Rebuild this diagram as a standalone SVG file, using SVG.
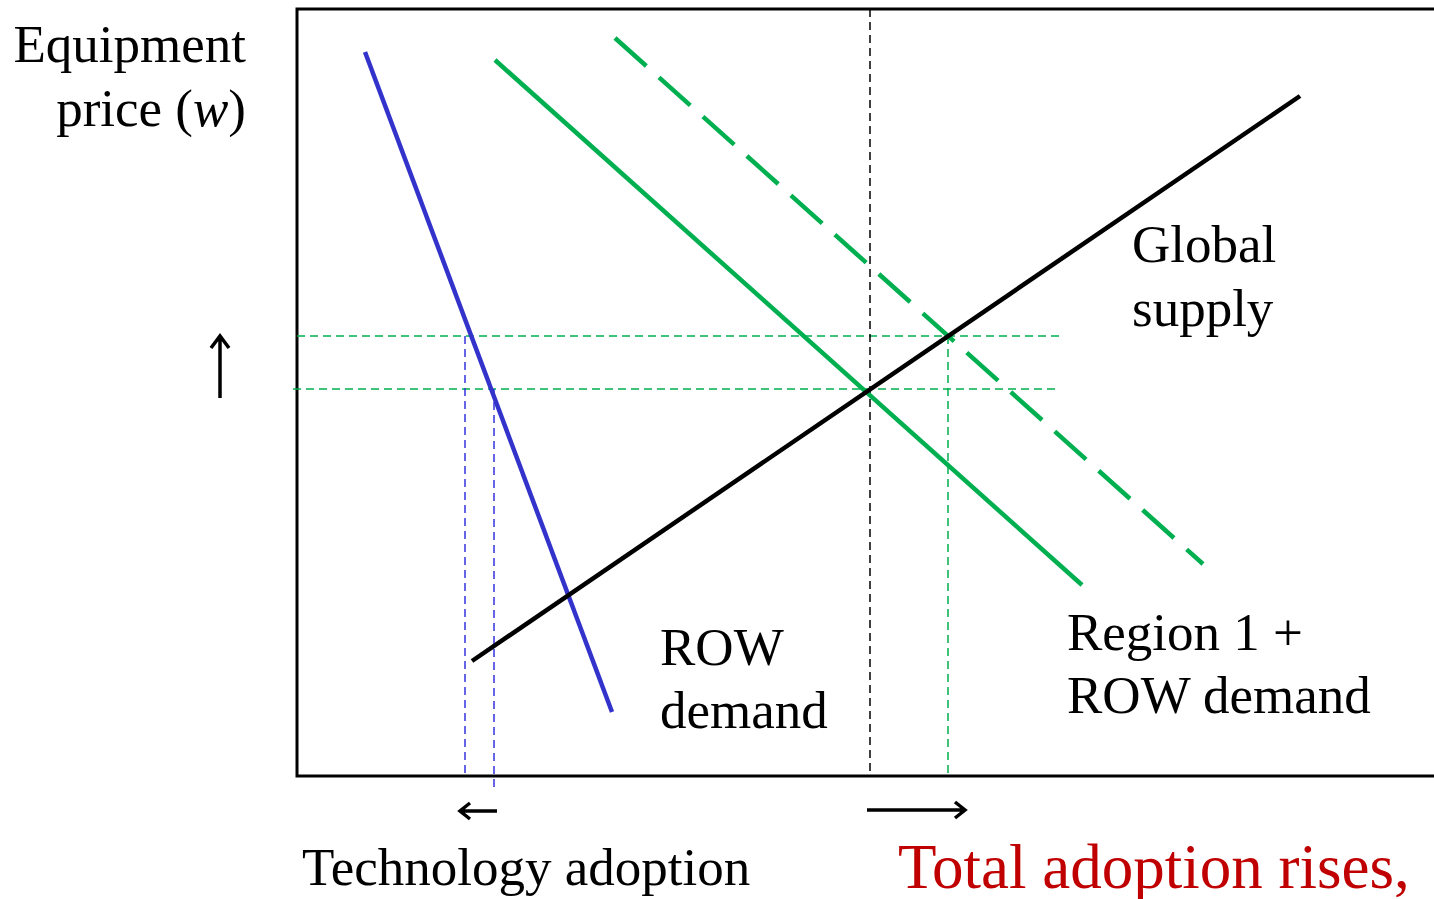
<svg xmlns="http://www.w3.org/2000/svg" width="1434" height="899" viewBox="0 0 1434 899">
<style>
.t{font-family:"Liberation Serif","Times New Roman",serif;font-size:53px;fill:#000}
.red{fill:#c00000;font-size:63px}
.thin{stroke-width:1.5;stroke-dasharray:8 5;fill:none}
.arr{fill:none;stroke:#000;stroke-width:3.5}
</style>
<rect width="1434" height="899" fill="#fff"/>
<g id="axes">
<path d="M1434,9 H297 V776 H1434" fill="none" stroke="#000" stroke-width="3"/>
</g>
<g id="guides">
<line x1="297" y1="336" x2="1063" y2="336" class="thin" stroke="#00b050"/>
<line x1="293" y1="389" x2="1058" y2="389" class="thin" stroke="#00b050"/>
<line x1="465" y1="336" x2="465" y2="776" class="thin" stroke="#3333dd"/>
<line x1="494" y1="389" x2="494" y2="788" class="thin" stroke="#3333dd"/>
<line x1="870" y1="9" x2="870" y2="772" class="thin" stroke="#000"/>
<line x1="948" y1="336" x2="948" y2="776" class="thin" stroke="#00b050"/>
</g>
<g id="connectors">
<line id="row-demand-curve" x1="365" y1="52" x2="612" y2="712" stroke="#3333cc" stroke-width="4.5"/>
<line id="region-demand-curve" x1="495" y1="60" x2="1082" y2="585" stroke="#00b050" stroke-width="4.5"/>
<line id="shifted-demand-curve" x1="615" y1="38" x2="1203" y2="564" stroke="#00b050" stroke-width="4.5" stroke-dasharray="42 17"/>
<line id="supply-curve" x1="472" y1="661" x2="1300" y2="96" stroke="#000" stroke-width="4.5"/>
<path class="arr" d="M220,398 V337 M211,348 L220,336 L229,348"/>
<path class="arr" d="M497,811 H460 M470,803 L460,811 L470,819"/>
<path class="arr" d="M867,810 H965 M955,802 L965,810 L955,818"/>
</g>
<g id="labels">
<text class="t" x="246" y="62" text-anchor="end">Equipment</text>
<text class="t" x="246" y="126" text-anchor="end">price (<tspan font-style="italic">w</tspan>)</text>
<text class="t" x="1132" y="262">Global</text>
<text class="t" x="1132" y="326">supply</text>
<text class="t" x="660" y="665">ROW</text>
<text class="t" x="660" y="728">demand</text>
<text class="t" x="1067" y="650">Region 1 +</text>
<text class="t" x="1067" y="713">ROW demand</text>
<text class="t" x="302" y="885">Technology adoption</text>
<text class="t red" x="898" y="888">Total adoption rises,</text>
</g>
</svg>
